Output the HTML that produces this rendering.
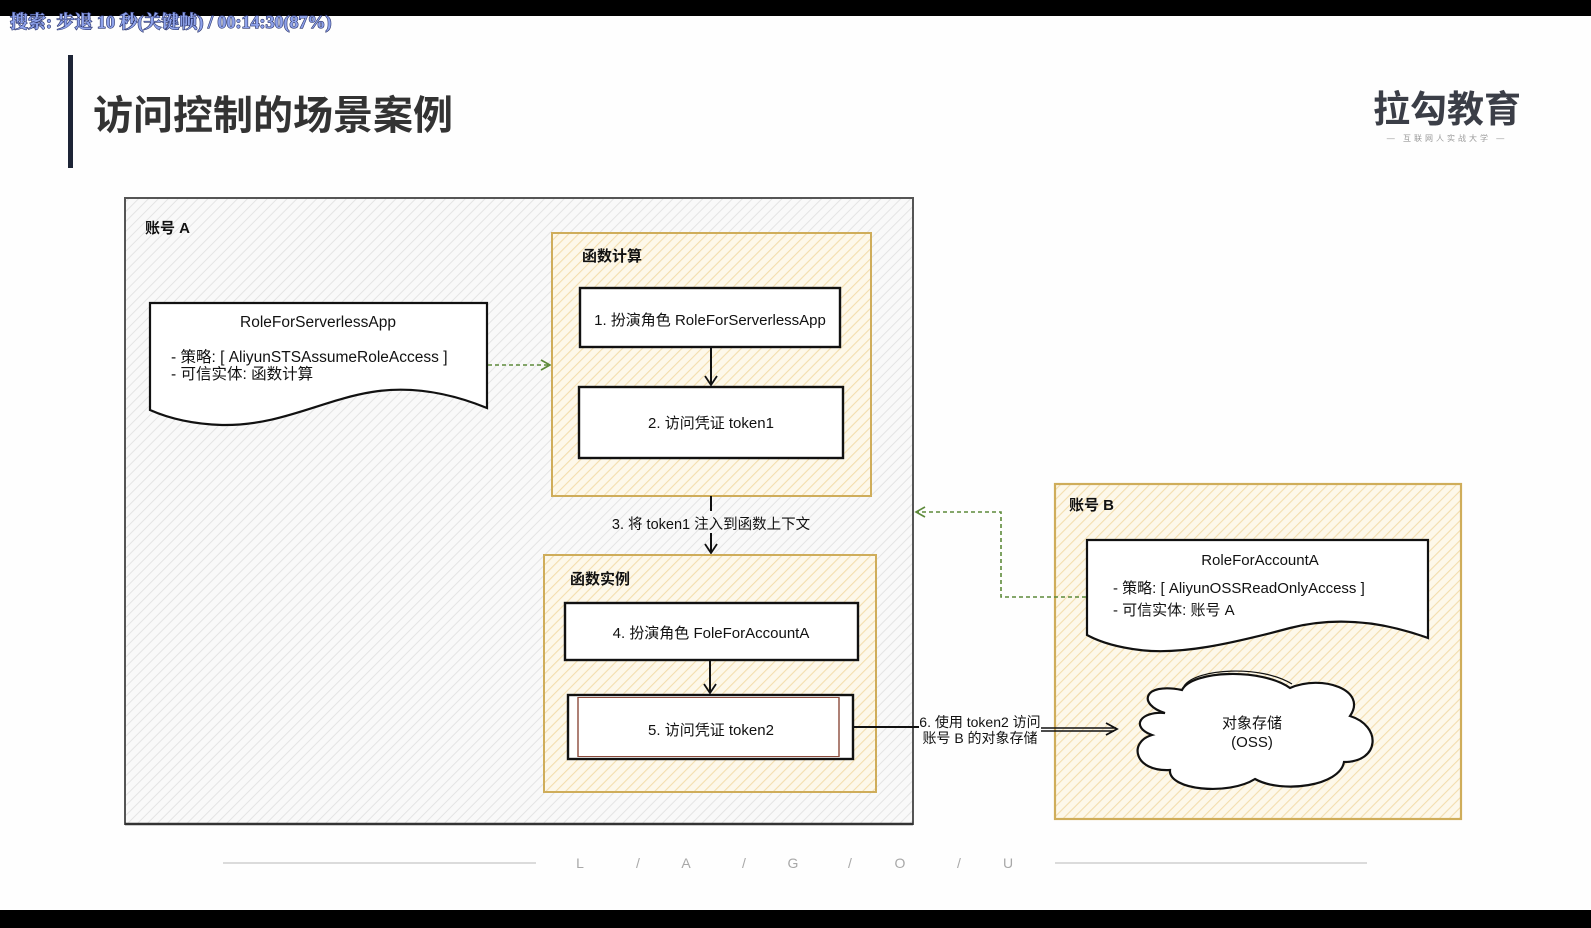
<!DOCTYPE html>
<html>
<head>
<meta charset="utf-8">
<style>
  html, body { margin:0; padding:0; width:1591px; height:928px; overflow:hidden; background:#fefefe; }
  svg { display:block; }
  .t { font-family:"Liberation Sans","Noto Sans CJK SC",sans-serif; fill:#111; }
</style>
</head>
<body>
<svg width="1591" height="928" viewBox="0 0 1591 928" xmlns="http://www.w3.org/2000/svg">
  <defs>
    <pattern id="hg" width="7" height="7" patternUnits="userSpaceOnUse" patternTransform="rotate(45)">
      <rect width="7" height="7" fill="#f9f9f9"/>
      <line x1="0" y1="0" x2="0" y2="7" stroke="#e4e4e4" stroke-width="2"/>
    </pattern>
    <pattern id="hy" width="7" height="7" patternUnits="userSpaceOnUse" patternTransform="rotate(45)">
      <rect width="7" height="7" fill="#fdf8ea"/>
      <line x1="0" y1="0" x2="0" y2="7" stroke="#f3deae" stroke-width="2.2"/>
    </pattern>
  </defs>

  <!-- background -->
  <rect x="0" y="0" width="1591" height="928" fill="#fefefe"/>
  <rect x="0" y="0" width="1591" height="16" fill="#000"/>
  <rect x="0" y="910" width="1591" height="18" fill="#000"/>

  <!-- top overlay text -->
  <text x="10" y="28" font-family="'Liberation Serif','Noto Serif CJK SC',serif" font-weight="bold" font-size="18" fill="#8ea2ea" stroke="#2a336a" stroke-width="1.2" paint-order="stroke">搜索: 步退 10 秒(关键帧) / 00:14:30(87%)</text>

  <!-- title -->
  <rect x="68" y="55" width="5" height="113" fill="#1d2436"/>
  <text class="t" x="93" y="129" font-size="40" font-weight="bold" style="fill:#333">访问控制的场景案例</text>

  <!-- logo -->
  <text class="t" x="1447" y="122" font-size="37" font-weight="bold" text-anchor="middle" style="fill:#3b3e47">拉勾教育</text>
  <text class="t" x="1447" y="141" font-size="8" text-anchor="middle" letter-spacing="3" style="fill:#999">—  互联网人实战大学  —</text>

  <!-- Account A -->
  <rect x="125" y="198" width="788" height="626" fill="url(#hg)" stroke="#555" stroke-width="2"/>
  <line x1="125" y1="824" x2="913" y2="824" stroke="#333" stroke-width="2.5"/>
  <text class="t" x="145" y="233" font-size="15" font-weight="bold">账号 A</text>

  <!-- Doc A -->
  <path d="M150,303 L487,303 L487,408 C455,395 415,385 372,392 C322,400 280,426 222,425 C190,424 168,418 150,410 Z" fill="#fff" stroke="#111" stroke-width="2.2"/>
  <text class="t" x="318" y="327" font-size="15.5" text-anchor="middle">RoleForServerlessApp</text>
  <text class="t" x="171" y="362" font-size="15.5">- 策略: [ AliyunSTSAssumeRoleAccess ]</text>
  <text class="t" x="171" y="379" font-size="15.5">- 可信实体: 函数计算</text>

  <!-- green dashed arrow A -->
  <line x1="488" y1="365" x2="549" y2="365" stroke="#5d8a3a" stroke-width="1.6" stroke-dasharray="4,3"/>
  <polyline points="541,360 550,365 541,370" fill="none" stroke="#5d8a3a" stroke-width="1.6"/>

  <!-- 函数计算 -->
  <rect x="552" y="233" width="319" height="263" fill="url(#hy)" stroke="#cfad5a" stroke-width="2"/>
  <text class="t" x="582" y="261" font-size="15" font-weight="bold">函数计算</text>

  <rect x="580" y="288" width="260" height="59" fill="#fff" stroke="#111" stroke-width="2.4"/>
  <text class="t" x="710" y="325" font-size="15" text-anchor="middle">1. 扮演角色 RoleForServerlessApp</text>

  <line x1="711" y1="347" x2="711" y2="385" stroke="#111" stroke-width="2"/>
  <polyline points="705,376 711,385 717,376" fill="none" stroke="#111" stroke-width="1.8"/>

  <rect x="579" y="387" width="264" height="71" fill="#fff" stroke="#111" stroke-width="2.4"/>
  <text class="t" x="711" y="428" font-size="15" text-anchor="middle">2. 访问凭证 token1</text>

  <!-- arrow 3 -->
  <line x1="711" y1="496" x2="711" y2="511" stroke="#111" stroke-width="2"/>
  <line x1="711" y1="533" x2="711" y2="553" stroke="#111" stroke-width="2"/>
  <polyline points="705,544 711,553 717,544" fill="none" stroke="#111" stroke-width="1.8"/>
  <text class="t" x="711" y="529" font-size="14.5" text-anchor="middle">3. 将 token1 注入到函数上下文</text>

  <!-- 函数实例 -->
  <rect x="544" y="555" width="332" height="237" fill="url(#hy)" stroke="#cfad5a" stroke-width="2"/>
  <text class="t" x="570" y="584" font-size="15" font-weight="bold">函数实例</text>

  <rect x="565" y="603" width="293" height="57" fill="#fff" stroke="#111" stroke-width="2.4"/>
  <text class="t" x="711" y="638" font-size="15" text-anchor="middle">4. 扮演角色 FoleForAccountA</text>

  <line x1="710" y1="660" x2="710" y2="693" stroke="#111" stroke-width="2"/>
  <polyline points="704,684 710,693 716,684" fill="none" stroke="#111" stroke-width="1.8"/>

  <rect x="568" y="695" width="285" height="64" fill="#fff" stroke="#111" stroke-width="2.4"/>
  <line x1="578" y1="697" x2="578" y2="757" stroke="#8b4a3a" stroke-width="1.4"/>
  <line x1="839" y1="697" x2="839" y2="757" stroke="#8b4a3a" stroke-width="1.4"/>
  <line x1="578" y1="697.5" x2="839" y2="697.5" stroke="#8b4a3a" stroke-width="1"/>
  <line x1="578" y1="756.5" x2="839" y2="756.5" stroke="#8b4a3a" stroke-width="1"/>
  <text class="t" x="711" y="735" font-size="15" text-anchor="middle">5. 访问凭证 token2</text>

  <!-- Account B -->
  <rect x="1055" y="484" width="406" height="335" fill="url(#hy)" stroke="#cfad5a" stroke-width="2.2"/>
  <text class="t" x="1069" y="510" font-size="15" font-weight="bold">账号 B</text>

  <!-- arrow 6 (drawn after Account B so it overlays it) -->
  <line x1="853" y1="727" x2="919" y2="727" stroke="#111" stroke-width="2"/>
  <text class="t" x="980" y="727" font-size="14" text-anchor="middle">6. 使用 token2 访问</text>
  <text class="t" x="980" y="743" font-size="14" text-anchor="middle">账号 B 的对象存储</text>
  <line x1="1041" y1="728" x2="1116" y2="728" stroke="#111" stroke-width="1.5"/>
  <line x1="1041" y1="731" x2="1114" y2="731" stroke="#111" stroke-width="1.5"/>
  <polyline points="1106,723 1117,729 1106,735" fill="none" stroke="#111" stroke-width="1.8"/>

  <!-- Doc B -->
  <path d="M1087,540 L1428,540 L1428,638 C1395,626 1345,614 1290,628 C1230,644 1180,655 1140,650 C1115,647 1098,641 1087,635 Z" fill="#fff" stroke="#111" stroke-width="2.2"/>
  <text class="t" x="1260" y="565" font-size="15" text-anchor="middle">RoleForAccountA</text>
  <text class="t" x="1113" y="593" font-size="15">- 策略: [ AliyunOSSReadOnlyAccess ]</text>
  <text class="t" x="1113" y="615" font-size="15">- 可信实体: 账号 A</text>

  <!-- green dashed arrow B -->
  <polyline points="1086,597 1001,597 1001,512 917,512" fill="none" stroke="#5d8a3a" stroke-width="1.6" stroke-dasharray="4,3"/>
  <polyline points="925,507 916,512 925,517" fill="none" stroke="#5d8a3a" stroke-width="1.6"/>

  <!-- Cloud -->
  <path d="M1165,713 C1138,705 1142,682 1182,690 C1192,670 1262,668 1290,688 C1322,674 1368,690 1350,716 C1382,726 1380,762 1344,762 C1340,786 1282,794 1255,779 C1228,796 1168,790 1170,770 C1134,772 1128,742 1152,735 C1130,727 1140,711 1165,713 Z" fill="#fff" stroke="#111" stroke-width="2.2"/>
  <path d="M1184,686 C1196,668 1262,665 1292,684" fill="none" stroke="#111" stroke-width="1.2"/>
  <text class="t" x="1252" y="728" font-size="15" text-anchor="middle">对象存储</text>
  <text class="t" x="1252" y="747" font-size="15" text-anchor="middle">(OSS)</text>

  <!-- footer -->
  <line x1="223" y1="863" x2="536" y2="863" stroke="#cfcfcf" stroke-width="1.5"/>
  <line x1="1055" y1="863" x2="1367" y2="863" stroke="#cfcfcf" stroke-width="1.5"/>
  <g class="t" font-size="14" style="fill:#a8a8a8" text-anchor="middle">
    <text x="580" y="868">L</text>
    <text x="638" y="868">/</text>
    <text x="686" y="868">A</text>
    <text x="744" y="868">/</text>
    <text x="793" y="868">G</text>
    <text x="850" y="868">/</text>
    <text x="900" y="868">O</text>
    <text x="959" y="868">/</text>
    <text x="1008" y="868">U</text>
  </g>
</svg>
</body>
</html>
